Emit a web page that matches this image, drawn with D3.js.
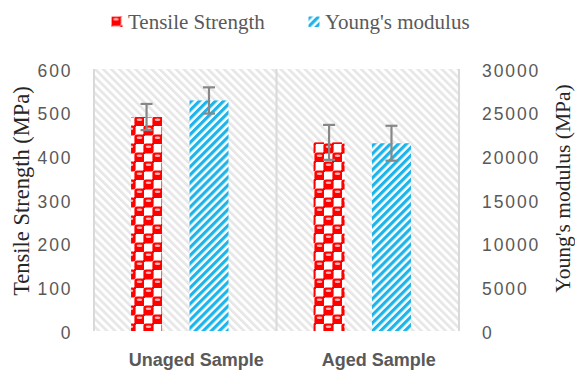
<!DOCTYPE html>
<html>
<head>
<meta charset="utf-8">
<script src="https://cdn.jsdelivr.net/npm/d3@7"></script>
<style>
  body { margin: 0; background: #fff; }
  svg { display: block; }
</style>
</head>
<body>
<svg width="575" height="372"></svg>
<script>
// data
var categories = ["Unaged Sample", "Aged Sample"];
var tensile = [490, 432];
var tensileErr = [30, 40];
var modulus = [26400, 21500];
var modulusErr = [1500, 2000];
var leftTicks = [0, 100, 200, 300, 400, 500, 600];
var rightTicks = [0, 5000, 10000, 15000, 20000, 25000, 30000];
var seriesNames = ["Tensile Strength", "Young's modulus"];

var svg = d3.select("svg");
var margin = { top: 69, bottom: 331, left: 94, right: 459 };

var x = d3.scaleBand().domain(categories).range([margin.left, margin.right]);
var y = d3.scaleLinear().domain([0, 600]).range([margin.bottom, margin.top]);
var y2 = d3.scaleLinear().domain([0, 30000]).range([margin.bottom, margin.top]);

// patterns
var defs = svg.append("defs");

var bg = defs.append("pattern")
    .attr("id", "bgHatch")
    .attr("patternUnits", "userSpaceOnUse")
    .attr("width", 5.7).attr("height", 5.7)
    .attr("patternTransform", "rotate(-45)");
bg.append("rect").attr("width", 5.7).attr("height", 5.7).attr("fill", "#ffffff");
bg.append("rect").attr("width", 2.6).attr("height", 5.7).attr("fill", "#e6e6e6");

var blue = defs.append("pattern")
    .attr("id", "blueHatch")
    .attr("patternUnits", "userSpaceOnUse")
    .attr("width", 5.7).attr("height", 5.7)
    .attr("patternTransform", "rotate(45)");
blue.append("rect").attr("width", 5.7).attr("height", 5.7).attr("fill", "#ffffff");
blue.append("rect").attr("width", 3.2).attr("height", 5.7).attr("fill", "#1cb4ea");

// red "sphere" checker
var cell = 9;
var red = defs.append("pattern")
    .attr("id", "redSphere")
    .attr("patternUnits", "userSpaceOnUse")
    .attr("width", cell * 2).attr("height", cell * 2);
red.append("rect").attr("width", cell * 2).attr("height", cell * 2).attr("fill", "#ffffff");
[[0, 0], [cell, cell], [cell * 2, 0], [0, cell * 2], [cell * 2, cell * 2]].forEach(function (p) {
    red.append("rect").attr("x", p[0] - 0.6).attr("y", p[1] - 0.6)
        .attr("width", cell + 1.2).attr("height", cell + 1.2).attr("rx", 2.5).attr("fill", "#ff0000");
    red.append("ellipse").attr("cx", p[0] + cell / 2).attr("cy", p[1] + 2.8)
        .attr("rx", 2.8).attr("ry", 1.3).attr("fill", "#ffb8b8");
});
[[cell * 2, cell], [cell, cell * 2], [cell, 0], [0, cell]].forEach(function (p) {
    red.append("rect").attr("x", p[0] - 1).attr("y", p[1] - 1)
        .attr("width", 2).attr("height", 2).attr("fill", "#ff0000");
});

// plot background
svg.append("rect")
    .attr("x", margin.left).attr("y", margin.top)
    .attr("width", margin.right - margin.left)
    .attr("height", margin.bottom - margin.top)
    .attr("fill", "url(#bgHatch)");

// vertical separators
var seps = categories.map(function (c) { return x(c); }).concat([margin.right]);
svg.append("g").selectAll("line")
    .data(seps)
    .join("line")
    .attr("x1", function (d) { return d; })
    .attr("x2", function (d) { return d; })
    .attr("y1", margin.top).attr("y2", margin.bottom)
    .attr("stroke", "#d9d9d9").attr("stroke-width", 2);

var bw = x.bandwidth();
var redW = 31, blueW = 39;
var redPos = 0.288, bluePos = 0.63;

// bars
svg.append("g").selectAll("rect")
    .data(categories)
    .join("rect")
    .attr("x", function (d) { return x(d) + bw * redPos - redW / 2; })
    .attr("y", function (d, i) { return y(tensile[i]); })
    .attr("width", redW)
    .attr("height", function (d, i) { return y(0) - y(tensile[i]); })
    .attr("fill", "url(#redSphere)");

svg.append("g").selectAll("rect")
    .data(categories)
    .join("rect")
    .attr("x", function (d) { return x(d) + bw * bluePos - blueW / 2; })
    .attr("y", function (d, i) { return y2(modulus[i]); })
    .attr("width", blueW)
    .attr("height", function (d, i) { return y2(0) - y2(modulus[i]); })
    .attr("fill", "url(#blueHatch)");

// error bars
function errorBars(vals, errs, scale, pos) {
    var g = svg.append("g")
        .attr("stroke", "#878787").attr("stroke-width", 2.2).attr("fill", "none");
    categories.forEach(function (c, i) {
        var cx = x(c) + bw * pos;
        var top = scale(vals[i] + errs[i]), bot = scale(vals[i] - errs[i]);
        g.append("line").attr("x1", cx).attr("x2", cx).attr("y1", top).attr("y2", bot);
        g.append("line").attr("x1", cx - 6).attr("x2", cx + 6).attr("y1", top).attr("y2", top);
        g.append("line").attr("x1", cx - 6).attr("x2", cx + 6).attr("y1", bot).attr("y2", bot);
    });
}
errorBars(tensile, tensileErr, y, redPos);
errorBars(modulus, modulusErr, y2, bluePos);

// axes
var tickFont = "'Liberation Sans', Arial, sans-serif";
var leftAxis = svg.append("g")
    .attr("transform", "translate(72.5,0)")
    .call(d3.axisLeft(y).tickValues(leftTicks).tickSize(0).tickPadding(0));
var rightAxis = svg.append("g")
    .attr("transform", "translate(482,0)")
    .call(d3.axisRight(y2).tickValues(rightTicks).tickSize(0).tickPadding(0).tickFormat(d3.format("d")));
[leftAxis, rightAxis].forEach(function (a) {
    a.select(".domain").remove();
    a.selectAll("text")
        .attr("dy", 7)
        .attr("fill", "#595959")
        .style("font-family", tickFont)
        .style("font-size", "17.5px")
        .style("letter-spacing", "1.9px");
});

// category labels
svg.append("g").selectAll("text")
    .data(categories)
    .join("text")
    .attr("x", function (d) { return x(d) + bw / 2 + 11; })
    .attr("y", 366)
    .attr("text-anchor", "middle")
    .attr("fill", "#595959")
    .style("font-family", "'Liberation Sans', Arial, sans-serif")
    .style("font-weight", "bold")
    .style("font-size", "18px")
    .text(function (d) { return d; });

// axis titles
svg.append("text")
    .attr("transform", "translate(28.5,191) rotate(-90)")
    .attr("text-anchor", "middle")
    .attr("fill", "#262626")
    .style("font-family", "'Liberation Serif', 'Times New Roman', serif")
    .style("font-size", "22.5px")
    .text("Tensile Strength (MPa)");

svg.append("text")
    .attr("transform", "translate(570,188.5) rotate(-90)")
    .attr("text-anchor", "middle")
    .attr("fill", "#262626")
    .style("font-family", "'Liberation Serif', 'Times New Roman', serif")
    .style("font-size", "21.5px")
    .text("Young's modulus (MPa)");

// legend
var legendX = [111.5, 308.5];
var legendFill = ["url(#redSphere)", "url(#blueHatch)"];
var legend = svg.append("g").selectAll("g")
    .data(seriesNames)
    .join("g")
    .attr("transform", function (d, i) { return "translate(" + legendX[i] + ",16.5)"; });
legend.append("rect")
    .attr("width", 11).attr("height", 10.5)
    .attr("fill", function (d, i) { return legendFill[i]; });
legend.append("text")
    .attr("x", 16.5).attr("y", 12.5)
    .attr("fill", "#595959")
    .style("font-family", "'Liberation Serif', 'Times New Roman', serif")
    .style("font-size", "21px")
    .text(function (d) { return d; });
</script>
</body>
</html>
